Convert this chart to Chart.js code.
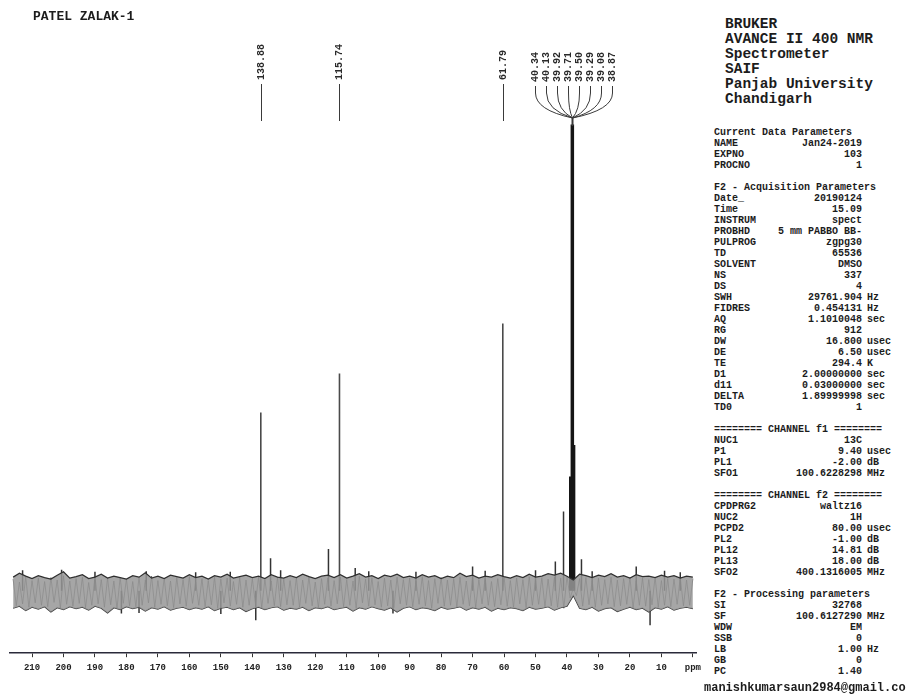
<!DOCTYPE html>
<html>
<head>
<meta charset="utf-8">
<script src="https://cdn.jsdelivr.net/npm/chart.js@4.4.1/dist/chart.umd.min.js"></script>
<style>
  html,body{margin:0;padding:0;background:#fff;}
  #wrap{position:relative;width:906px;height:698px;overflow:hidden;background:#fff;}
  #c{position:absolute;left:0;top:0;}
  .t{position:absolute;font-family:"Liberation Mono",monospace;font-weight:bold;color:#1c1c1c;white-space:pre;}
  #title{left:33px;top:9px;font-size:13px;}
  #hdr{left:725px;top:17px;font-size:14.5px;line-height:15px;}
  .row{position:absolute;font-family:"Liberation Mono",monospace;font-weight:bold;font-size:10px;color:#1c1c1c;white-space:pre;line-height:11px;}
  #email{left:704px;top:681px;font-size:12px;}
</style>
</head>
<body>
<div id="wrap">
  <canvas id="c" width="706" height="698"></canvas>
  <div class="t" id="title">PATEL ZALAK-1</div>
  <div class="t" id="hdr">BRUKER
AVANCE II 400 NMR
Spectrometer
SAIF
Panjab University
Chandigarh</div>
  <div id="panel"></div>
  <div class="t" id="email">manishkumarsaun2984@gmail.com</div>
</div>
<script>
// ---------- DATA ----------
const tickValues = [210,200,190,180,170,160,150,140,130,120,110,100,90,80,70,60,50,40,30,20,10,0];

const peakPpm    = [137.3, 112.3, 60.4];
const peakHeight = [36.7, 44.7, 55.0];
const peakLabels = ["138.88", "115.74", "61.79"];

// solvent (DMSO-d6) multiplet
const dmsoPpm    = [38.8, 38.3, 37.9];
const dmsoHeight = [23.5, 96.0, 30.0];
const septetLabels = ["40.34","40.13","39.92","39.71","39.50","39.29","39.08","38.87"];

// small spikes above / below the noise band
const spikePpm    = [213.0, 200.6, 190.0, 181.6, 176.0, 173.7, 158.0, 150.0, 147.0, 138.9, 134.2, 131.0, 115.8, 107.3, 103.0, 95.3, 88.0, 70.0, 66.0, 50.0, 43.7, 41.1, 35.4, 32.0, 18.0, 13.6, 9.0, 4.0];
const spikeHeight = [4.2, 4.3, 3.9, -4.7, -4.6, 4.0, 3.8, -4.8, 3.9, -6.1, 6.7, 4.2, 8.6, 4.7, 4.0, -4.7, 3.9, 5.0, 4.1, 4.2, 6.0, 16.3, 6.5, 4.0, 5.0, -7.1, 4.1, 3.8];

// noise band envelope
const noisePpm = [216,214,212,210,208,206,204,202,200,198,
                  196,194,192,190,188,186,184,182,180,178,
                  176,174,172,170,168,166,164,162,160,158,
                  156,154,152,150,148,146,144,142,140,138,
                  136,134,132,130,128,126,124,122,120,118,
                  116,114,112,110,108,106,104,102,100,98,
                  96,94,92,90,88,86,84,82,80,78,
                  76,74,72,70,68,66,64,62,60,58,
                  56,54,52,50,48,46,44,42,40,38,
                  36,34,32,30,28,26,24,22,20,18,
                  16,14,12,10,8,6,4,2,0];
const noiseUpper = [2.8,3.6,3.0,2.5,3.1,2.7,2.4,3.2,3.9,2.6,
                    2.9,3.3,2.5,2.8,3.4,2.6,3.0,2.7,2.4,3.1,
                    2.8,3.7,2.6,3.0,2.5,3.2,2.9,2.6,3.3,2.7,
                    3.0,2.4,3.1,2.8,3.4,2.6,2.9,3.2,2.7,3.0,
                    2.5,3.3,2.8,2.6,3.1,2.7,3.4,2.9,2.5,3.0,
                    3.2,2.7,3.3,2.6,3.0,3.5,2.8,3.1,2.5,3.2,
                    2.9,3.4,2.7,3.0,2.6,3.3,2.8,3.1,2.5,3.0,
                    2.7,3.6,2.9,3.2,2.6,3.0,2.8,3.3,2.9,2.6,
                    3.1,2.7,3.4,2.8,3.0,3.5,3.2,3.6,3.0,2.2,
                    3.4,3.1,2.7,3.2,2.9,3.5,2.8,3.1,2.6,3.3,
                    2.9,3.0,2.7,3.2,2.8,3.1,2.6,3.0,2.8];
const noiseLower = [-3.6,-3.2,-4.1,-3.4,-3.8,-3.3,-4.4,-3.5,-3.9,-3.3,
                    -3.7,-3.4,-4.0,-3.2,-3.6,-4.6,-3.5,-3.9,-3.3,-3.7,
                    -3.4,-4.2,-3.5,-3.8,-3.3,-4.0,-3.6,-3.4,-3.9,-3.5,
                    -3.8,-3.3,-4.1,-3.6,-3.4,-3.9,-3.5,-4.3,-3.7,-3.4,
                    -3.9,-3.5,-3.3,-4.0,-3.6,-3.8,-3.4,-4.1,-3.5,-3.7,
                    -3.3,-3.9,-3.6,-3.4,-4.2,-3.5,-3.8,-3.3,-3.7,-4.0,
                    -3.5,-4.4,-3.6,-3.3,-3.9,-3.5,-3.7,-4.1,-3.4,-3.8,
                    -3.6,-3.3,-4.0,-3.5,-3.8,-3.4,-4.2,-3.6,-3.9,-3.5,
                    -3.7,-4.1,-3.4,-3.8,-3.6,-3.3,-4.0,-3.5,-3.2,-1.0,
                    -3.6,-3.9,-3.4,-4.2,-3.7,-3.5,-4.3,-3.8,-3.4,-3.9,
                    -3.6,-4.4,-3.5,-3.8,-3.3,-4.0,-3.6,-3.4,-3.7];

// dense noise trace inside the band (1 ppm step)
const tracePpm = [216,215,214,213,212,211,210,209,208,207,
                  206,205,204,203,202,201,200,199,198,197,
                  196,195,194,193,192,191,190,189,188,187,
                  186,185,184,183,182,181,180,179,178,177,
                  176,175,174,173,172,171,170,169,168,167,
                  166,165,164,163,162,161,160,159,158,157,
                  156,155,154,153,152,151,150,149,148,147,
                  146,145,144,143,142,141,140,139,138,137,
                  136,135,134,133,132,131,130,129,128,127,
                  126,125,124,123,122,121,120,119,118,117,
                  116,115,114,113,112,111,110,109,108,107,
                  106,105,104,103,102,101,100,99,98,97,
                  96,95,94,93,92,91,90,89,88,87,
                  86,85,84,83,82,81,80,79,78,77,
                  76,75,74,73,72,71,70,69,68,67,
                  66,65,64,63,62,61,60,59,58,57,
                  56,55,54,53,52,51,50,49,48,47,
                  46,45,44,43,42,41,40,39,38,37,
                  36,35,34,33,32,31,30,29,28,27,
                  26,25,24,23,22,21,20,19,18,17,
                  16,15,14,13,12,11,10,9,8,7,
                  6,5,4,3,2,1,0];
const traceValue = [2.4,-3.1,1.8,-2.7,2.9,-3.4,2.1,-2.5,2.6,-3.0,
                    1.9,-3.3,2.7,-2.4,2.2,-3.6,3.1,-2.8,2.0,-3.2,
                    2.5,-2.6,2.8,-3.5,1.7,-3.0,2.9,-2.7,2.3,-3.4,
                    2.6,-2.9,2.0,-3.7,2.7,-2.6,2.4,-3.1,1.9,-3.3,
                    2.8,-3.0,2.2,-2.5,3.0,-3.4,2.1,-2.8,2.6,-3.1,
                    2.0,-3.5,2.7,-2.7,2.3,-3.2,2.9,-2.6,1.8,-3.0,
                    2.5,-3.3,2.1,-2.9,2.8,-3.6,2.4,-2.5,2.6,-3.2,
                    1.9,-2.8,2.7,-3.4,2.2,-3.0,2.5,-2.7,2.9,-3.5,
                    2.3,-2.6,2.0,-3.1,2.8,-3.3,2.4,-2.9,2.1,-3.0,
                    2.7,-3.4,2.2,-2.6,2.9,-3.1,1.8,-3.5,2.5,-2.8,
                    2.6,-3.2,2.1,-2.7,2.8,-3.3,2.3,-3.0,2.0,-3.6,
                    3.0,-2.5,2.4,-3.2,2.7,-2.9,1.9,-3.4,2.6,-3.1,
                    2.2,-3.5,2.8,-2.7,2.3,-3.0,2.6,-3.3,2.0,-2.8,
                    2.9,-3.1,2.1,-3.6,2.5,-2.6,2.7,-3.2,2.2,-3.0,
                    2.4,-3.4,2.8,-2.8,2.0,-3.1,2.6,-3.5,2.3,-2.7,
                    2.7,-3.0,1.9,-3.3,2.5,-2.9,2.8,-3.2,2.1,-3.4,
                    2.6,-2.7,2.3,-3.5,2.9,-3.0,2.2,-2.8,2.7,-3.3,
                    2.4,-3.1,2.8,-3.4,2.6,-3.6,3.0,-1.5,0.5,-1.0,
                    2.5,-3.2,2.7,-2.9,2.1,-3.4,2.6,-3.0,2.3,-2.7,
                    2.8,-3.3,2.2,-3.1,2.5,-2.8,2.7,-3.5,2.0,-3.0,
                    2.6,-3.2,2.3,-2.9,2.8,-3.4,2.1,-3.0,2.5,-3.3,
                    2.4,-2.8,2.7,-3.1,2.2,-3.0,2.5];

// parameter panel text
const paramRows = [
  ["h","Current Data Parameters"],
  ["p","NAME","Jan24-2019",""],
  ["p","EXPNO","103",""],
  ["p","PROCNO","1",""],
  ["b"],
  ["h","F2 - Acquisition Parameters"],
  ["p","Date_","20190124",""],
  ["p","Time","15.09",""],
  ["p","INSTRUM","spect",""],
  ["p","PROBHD","5 mm PABBO BB-",""],
  ["p","PULPROG","zgpg30",""],
  ["p","TD","65536",""],
  ["p","SOLVENT","DMSO",""],
  ["p","NS","337",""],
  ["p","DS","4",""],
  ["p","SWH","29761.904","Hz"],
  ["p","FIDRES","0.454131","Hz"],
  ["p","AQ","1.1010048","sec"],
  ["p","RG","912",""],
  ["p","DW","16.800","usec"],
  ["p","DE","6.50","usec"],
  ["p","TE","294.4","K"],
  ["p","D1","2.00000000","sec"],
  ["p","d11","0.03000000","sec"],
  ["p","DELTA","1.89999998","sec"],
  ["p","TD0","1",""],
  ["b"],
  ["h","======== CHANNEL f1 ========"],
  ["p","NUC1","13C",""],
  ["p","P1","9.40","usec"],
  ["p","PL1","-2.00","dB"],
  ["p","SFO1","100.6228298","MHz"],
  ["b"],
  ["h","======== CHANNEL f2 ========"],
  ["p","CPDPRG2","waltz16",""],
  ["p","NUC2","1H",""],
  ["p","PCPD2","80.00","usec"],
  ["p","PL2","-1.00","dB"],
  ["p","PL12","14.81","dB"],
  ["p","PL13","18.00","dB"],
  ["p","SFO2","400.1316005","MHz"],
  ["b"],
  ["h","F2 - Processing parameters"],
  ["p","SI","32768",""],
  ["p","SF","100.6127290","MHz"],
  ["p","WDW","EM",""],
  ["p","SSB","0",""],
  ["p","LB","1.00","Hz"],
  ["p","GB","0",""],
  ["p","PC","1.40",""]
];

// ---------- PANEL ----------
(function(){
  const panel = document.getElementById('panel');
  paramRows.forEach((r,i)=>{
    if(r[0]==='b') return;
    const top = 127 + i*11;
    if(r[0]==='h'){
      const d=document.createElement('div'); d.className='row';
      d.style.left='714px'; d.style.top=top+'px'; d.textContent=r[1]; panel.appendChild(d);
    } else {
      const k=document.createElement('div'); k.className='row';
      k.style.left='714px'; k.style.top=top+'px'; k.textContent=r[1]; panel.appendChild(k);
      const v=document.createElement('div'); v.className='row';
      v.style.right=(906-862)+'px'; v.style.top=top+'px'; v.textContent=r[2]; panel.appendChild(v);
      if(r[3]){
        const u=document.createElement('div'); u.className='row';
        u.style.left='867px'; u.style.top=top+'px'; u.textContent=r[3]; panel.appendChild(u);
      }
    }
  });
})();

// ---------- BUILD SERIES ----------
function sticks(ppm, h){
  const out=[];
  ppm.forEach((p,i)=>{ out.push({x:p,y:0}); out.push({x:p,y:h[i]}); out.push({x:p,y:null}); });
  return out;
}

const labelPlugin = {
  id:'peakLabels',
  afterDatasetsDraw(chart){
    const ctx = chart.ctx, xs = chart.scales.x;
    ctx.save();
    ctx.font = 'bold 10px "Liberation Mono"';
    ctx.fillStyle = '#2a2a2a';
    ctx.strokeStyle = '#3a3a3a';
    ctx.lineWidth = 1;
    peakPpm.forEach((p,i)=>{
      const px = Math.round(xs.getPixelForValue(p)) + 0.5;
      ctx.save(); ctx.translate(px, 80); ctx.rotate(-Math.PI/2);
      ctx.textAlign='left'; ctx.textBaseline='middle';
      ctx.fillText(peakLabels[i], 0, 0); ctx.restore();
      ctx.beginPath(); ctx.moveTo(px, 84); ctx.lineTo(px, 121); ctx.stroke();
    });
    const cx = Math.round(xs.getPixelForValue(dmsoPpm[1])) + 0.5;
    septetLabels.forEach((t,i)=>{
      const lx = cx - 37 + i*11;
      ctx.save(); ctx.translate(lx, 82); ctx.rotate(-Math.PI/2);
      ctx.textAlign='left'; ctx.textBaseline='middle';
      ctx.fillText(t, 0, 0); ctx.restore();
      ctx.beginPath(); ctx.moveTo(lx, 86); ctx.lineTo(lx, 93);
      ctx.quadraticCurveTo(lx, 110, cx, 118); ctx.stroke();
    });
    ctx.lineWidth = 2;
    ctx.beginPath(); ctx.moveTo(cx, 117); ctx.lineTo(cx, 126); ctx.stroke();
    ctx.restore();
  }
};

new Chart(document.getElementById('c'), {
  type:'line',
  data:{ datasets:[
    { data: noisePpm.map((p,i)=>({x:p,y:noiseUpper[i]})), borderColor:'#2f2f2f', borderWidth:1.2,
      backgroundColor:'rgba(150,150,150,0.85)', fill:'+1', pointRadius:0, tension:0 },
    { data: noisePpm.map((p,i)=>({x:p,y:noiseLower[i]})), borderColor:'#353535', borderWidth:1.2,
      fill:false, pointRadius:0, tension:0 },
    { data: tracePpm.map((p,i)=>({x:p,y:traceValue[i]})), borderColor:'rgba(60,60,60,0.75)', borderWidth:0.9,
      fill:false, pointRadius:0, tension:0 },
    { data: sticks(spikePpm, spikeHeight), borderColor:'#333', borderWidth:1.5, pointRadius:0, spanGaps:false, fill:false },
    { data: sticks(peakPpm, peakHeight), borderColor:'#4a4a4a', borderWidth:1.6, pointRadius:0, spanGaps:false, fill:false },
    { data: sticks(dmsoPpm, dmsoHeight), borderColor:'#151515', borderWidth:3.5, pointRadius:0, spanGaps:false, fill:false }
  ]},
  options:{
    animation:false, responsive:false, events:[],
    layout:{ padding:{ left:10, right:6, top:105, bottom:20 } },
    plugins:{ legend:{display:false}, tooltip:{enabled:false} },
    scales:{
      x:{ type:'linear', reverse:true, min:-1.3, max:217,
          afterBuildTicks:(s)=>{ s.ticks = tickValues.map(v=>({value:v})); },
          border:{ display:true, color:'#2a2a3a', width:1.5 },
          grid:{ display:true, drawOnChartArea:false, drawTicks:true, tickLength:4, color:'#333' },
          ticks:{ autoSkip:false, maxRotation:0, padding:5, color:'#222',
                  font:{ family:'"Liberation Mono"', size:9, weight:'bold' },
                  callback:(v)=> v===0 ? 'ppm' : String(v) } },
      y:{ display:false, min:-12.86, max:100 }
    }
  },
  plugins:[labelPlugin]
});
</script>
</body>
</html>
